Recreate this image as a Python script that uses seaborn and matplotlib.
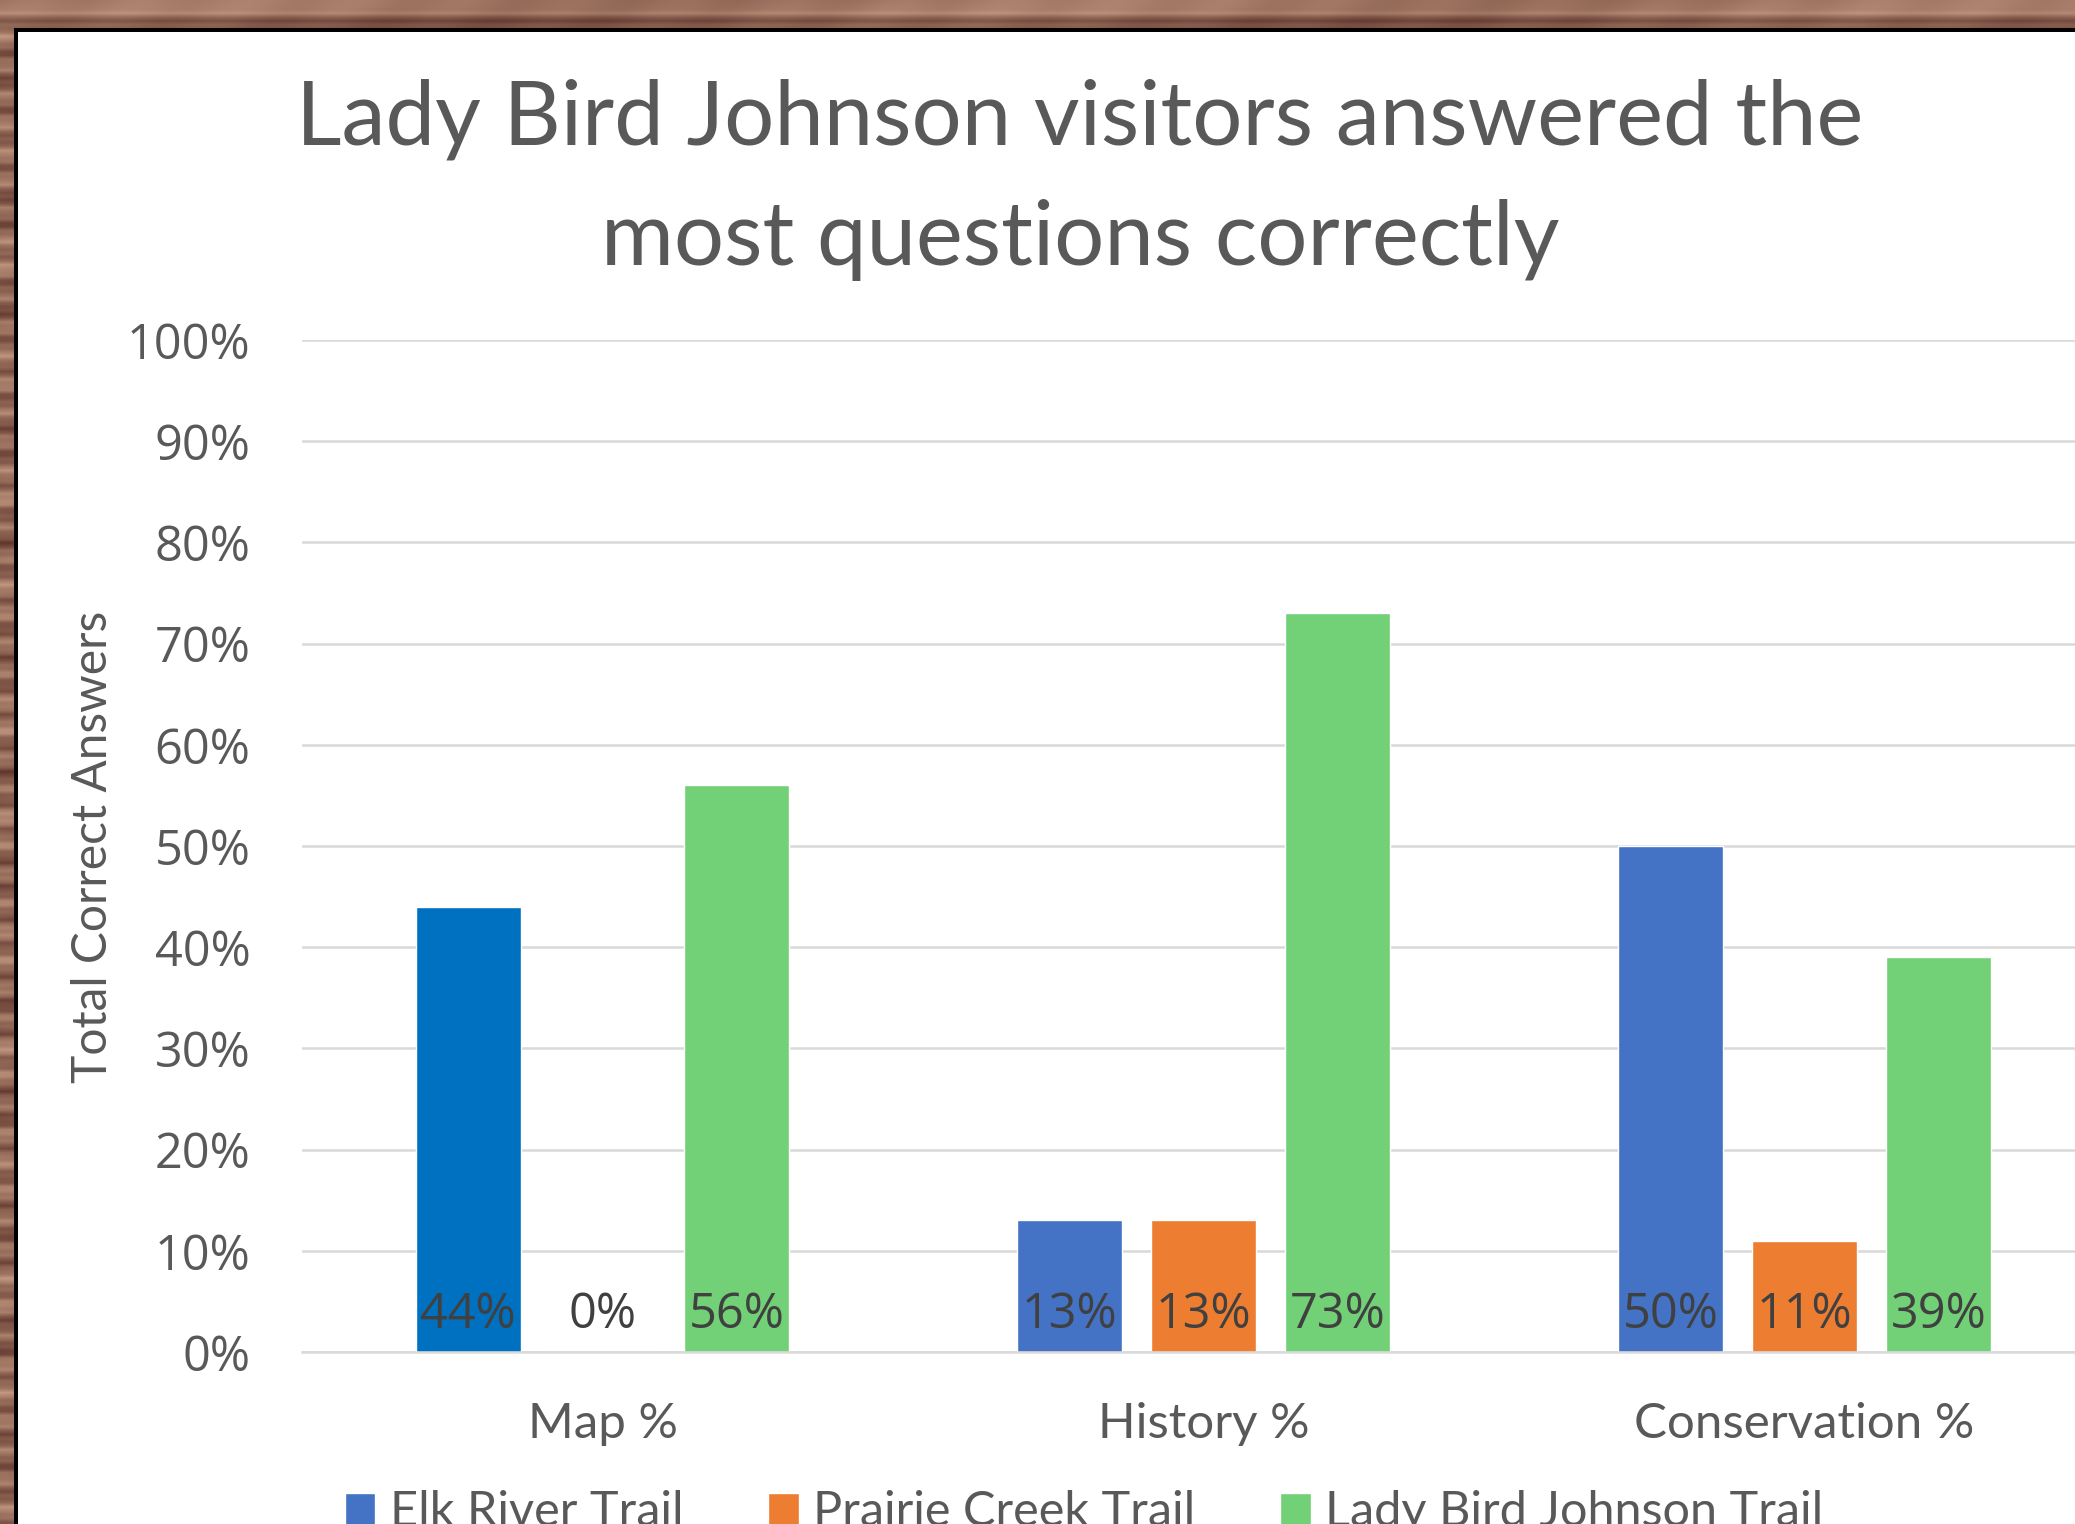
import numpy as np
import pandas as pd
import matplotlib
matplotlib.use("Agg")
import matplotlib.pyplot as plt
from matplotlib.patches import Rectangle
import seaborn as sns

# ---- data -------------------------------------------------------------
categories = ["Map %", "History %", "Conservation %"]
trails = ["Elk River Trail", "Prairie Creek Trail", "Lady Bird Johnson Trail"]
elk_river = [0.44, 0.13, 0.50]
prairie_creek = [0.00, 0.13, 0.11]
lady_bird = [0.56, 0.73, 0.39]
y_ticks = [0.0, 0.1, 0.2, 0.3, 0.4, 0.5, 0.6, 0.7, 0.8, 0.9, 1.0]
y_tick_labels = ["0%", "10%", "20%", "30%", "40%", "50%", "60%", "70%", "80%", "90%", "100%"]
title_lines = ["Lady Bird Johnson visitors answered the", "most questions correctly"]
y_label = "Total Correct Answers"

trail_colors = ["#4472C4", "#ED7D31", "#72D077"]
map_elk_color = "#0070C0"

df = pd.DataFrame({
    "Category": categories * 3,
    "Trail": [t for t in trails for _ in categories],
    "Value": elk_river + prairie_creek + lady_bird,
})

# ---- style ------------------------------------------------------------
sns.set_style("white")
plt.rcParams["font.family"] = ["Lato", "DejaVu Sans"]
TXT = "#595959"

W, H = 2075, 1524
fig = plt.figure(figsize=(W / 100, H / 100), dpi=100)

# wooden frame behind the white panel
bg = fig.add_axes([0, 0, 1, 1])
bg.set_axis_off()
rows = np.arange(400)[:, None]
cols = np.arange(300)[None, :]
grain = (0.55 * np.sin(rows * 0.83) + 0.30 * np.sin(rows * 2.1 + 1.3)
         + 0.20 * np.sin(rows * 0.21 + cols * 0.05) + 0.10 * np.sin(cols * 0.4 + rows * 0.3))
grain = (grain - grain.min()) / (grain.max() - grain.min())
dark = np.array([92, 52, 42]) / 255
light = np.array([200, 156, 132]) / 255
wood = dark + grain[..., None] * (light - dark)
bg.imshow(wood, extent=[0, 1, 0, 1], aspect="auto", interpolation="bilinear",
          transform=bg.transAxes, zorder=0)
bg.add_patch(Rectangle((14 / W, 0), 1, 1 - 28 / H, transform=bg.transAxes,
                       facecolor="black", edgecolor="none", zorder=1))
bg.add_patch(Rectangle((18 / W, 0), 1, 1 - 32 / H, transform=bg.transAxes,
                       facecolor="white", edgecolor="none", zorder=2))
bg.set_xlim(0, 1)
bg.set_ylim(0, 1)

# ---- chart ------------------------------------------------------------
ax = fig.add_axes([302 / W, 1 - 1352 / H, 1 - 302 / W, (1352 - 340) / H])
ax.set_facecolor("none")
sns.barplot(data=df, x="Category", y="Value", hue="Trail", order=categories,
            hue_order=trails, palette=trail_colors, width=0.67, gap=0.22,
            errorbar=None, saturation=1, ax=ax)

# Map % bar for Elk River uses a deeper blue
ax.containers[0][0].set_facecolor(map_elk_color)

ax.set_ylim(0, 1)
ax.set_xlim(-0.5, 2.45)
ax.set_yticks(y_ticks)
ax.set_yticklabels(y_tick_labels, fontsize=35, color=TXT, family=["Open Sans", "DejaVu Sans"])
ax.tick_params(axis="y", length=0, pad=37)
ax.tick_params(axis="x", length=0, pad=36, labelsize=35.5, labelcolor=TXT)
ax.yaxis.grid(True, color="#D9D9D9", linewidth=1.8)
ax.set_axisbelow(True)
for side in ["top", "right", "left"]:
    ax.spines[side].set_visible(False)
ax.spines["bottom"].set_color("#D9D9D9")
ax.spines["bottom"].set_linewidth(1.8)
ax.set_xlabel("")
ax.set_ylabel("")

# value labels at the foot of each bar
for container in ax.containers:
    for patch, val in zip(container.patches, container.datavalues):
        ax.text(patch.get_x() + patch.get_width() / 2, 0.036, f"{val:.0%}",
                ha="center", va="center", fontsize=35, color="#404040",
                family=["Open Sans", "DejaVu Sans"], zorder=5)

# legend along the bottom edge
handles, labels = ax.get_legend_handles_labels()
ax.get_legend().remove()
fig.legend(handles, labels, ncol=3, loc="upper left",
           bbox_to_anchor=(345 / W, 1 - 1490 / H), frameon=False,
           fontsize=35, labelcolor=TXT, handlelength=0.62, handleheight=0.62,
           handletextpad=0.3, columnspacing=1.75, borderaxespad=0, borderpad=0)

# title and axis label
fig.text(1080 / W, 1 - 145 / H, title_lines[0], ha="center", va="baseline",
         fontsize=63.8, color=TXT)
fig.text(1080 / W, 1 - 265 / H, title_lines[1], ha="center", va="baseline",
         fontsize=63.8, color=TXT)
fig.text(93 / W, 1 - 847 / H, y_label, ha="center", va="center", rotation=90,
         fontsize=34.5, color=TXT)

fig.savefig("out.png", dpi=100)
